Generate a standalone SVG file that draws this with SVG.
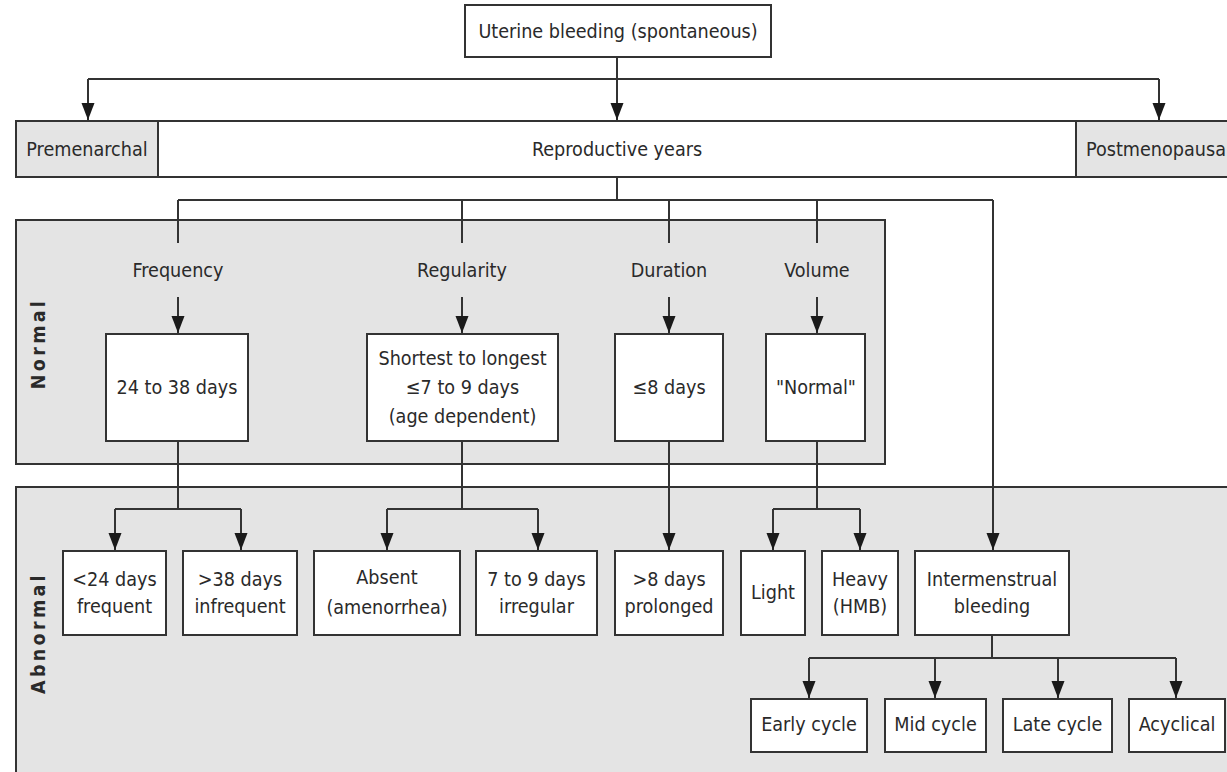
<svg xmlns="http://www.w3.org/2000/svg" width="1227" height="772" viewBox="0 0 1227 772">
<defs>
<marker id="ah" markerUnits="userSpaceOnUse" markerWidth="18" markerHeight="14" refX="17" refY="7" orient="auto" viewBox="0 0 18 14">
<path d="M0,0.5 L17,7 L0,13.5 Z" fill="#1a1a1a"/>
</marker>
<style>
.t{font-family:"DejaVu Sans Condensed","DejaVu Sans","Liberation Sans",sans-serif;font-stretch:condensed;font-size:19.6px;fill:#2a2a2a;text-anchor:middle}
.b{font-family:"DejaVu Sans Condensed","DejaVu Sans","Liberation Sans",sans-serif;font-stretch:condensed;font-size:19.5px;font-weight:bold;fill:#2a2a2a;text-anchor:middle;letter-spacing:3.3px}
.box{fill:#fff;stroke:#333;stroke-width:2}
.gray{fill:#e4e4e4;stroke:#333;stroke-width:2}
.c{fill:none;stroke:#333;stroke-width:2}
.a{fill:none;stroke:#333;stroke-width:2;marker-end:url(#ah)}
</style>
</defs>
<rect width="1227" height="772" fill="#fff"/>

<g id="panel-normal">
<rect class="gray" x="16" y="220" width="869" height="244"/>
<text class="b" transform="translate(45,343.5) rotate(-90)">Normal</text>
</g>
<g id="panel-abnormal">
<rect class="gray" x="16" y="487" width="1230" height="300"/>
<text class="b" transform="translate(45,633) rotate(-90)">Abnormal</text>
</g>

<g id="connectors">
<path class="c" d="M617,57 V79 M88,79 H1159"/>
<path class="a" d="M88,79 V120"/>
<path class="a" d="M617,79 V120"/>
<path class="a" d="M1159,79 V120"/>
<path class="c" d="M617,177 V200 M178,200 H993 M178,200 V243 M462,200 V243 M669,200 V243 M817,200 V243"/>
<path class="a" d="M178,297 V333"/>
<path class="a" d="M462,297 V333"/>
<path class="a" d="M669,297 V333"/>
<path class="a" d="M817,297 V333"/>
<path class="c" d="M178,441 V509 M115,509 H241 M462,441 V509 M387,509 H538 M817,441 V509 M773,509 H860"/>
<path class="a" d="M115,509 V550"/>
<path class="a" d="M241,509 V550"/>
<path class="a" d="M387,509 V550"/>
<path class="a" d="M538,509 V550"/>
<path class="a" d="M669,441 V550"/>
<path class="a" d="M773,509 V550"/>
<path class="a" d="M860,509 V550"/>
<path class="a" d="M993,200 V550"/>
<path class="c" d="M992,635 V658 M809,658 H1176"/>
<path class="a" d="M809,658 V698"/>
<path class="a" d="M935,658 V698"/>
<path class="a" d="M1058,658 V698"/>
<path class="a" d="M1176,658 V698"/>
</g>

<g id="uterine-bleeding">
<rect class="box" x="465" y="5" width="306" height="52"/>
<text class="t" x="618" y="38">Uterine bleeding (spontaneous)</text>
</g>
<g id="reproductive-years">
<rect class="box" x="16" y="121" width="1230" height="56"/>
<text class="t" x="617" y="155.5">Reproductive years</text>
</g>
<g id="premenarchal">
<rect class="gray" x="16" y="121" width="142" height="56"/>
<text class="t" x="87" y="155.5">Premenarchal</text>
</g>
<g id="postmenopausal">
<rect class="gray" x="1076" y="121" width="170" height="56"/>
<text class="t" x="1086" y="155.5" style="text-anchor:start">Postmenopausa</text>
</g>

<g id="frequency"><text class="t" x="178" y="277">Frequency</text></g>
<g id="regularity"><text class="t" x="462" y="277">Regularity</text></g>
<g id="duration"><text class="t" x="669" y="277">Duration</text></g>
<g id="volume"><text class="t" x="817" y="277">Volume</text></g>

<g id="n-frequency">
<rect class="box" x="106" y="334" width="142" height="107"/>
<text class="t" x="177" y="394">24 to 38 days</text>
</g>
<g id="n-regularity">
<rect class="box" x="367" y="334" width="191" height="107"/>
<text class="t" x="462.5" y="365">Shortest to longest</text>
<text class="t" x="462.5" y="394">≤7 to 9 days</text>
<text class="t" x="462.5" y="422.5">(age dependent)</text>
</g>
<g id="n-duration">
<rect class="box" x="615" y="334" width="108" height="107"/>
<text class="t" x="669" y="394">≤8 days</text>
</g>
<g id="n-volume">
<rect class="box" x="766" y="334" width="99" height="107"/>
<text class="t" x="816" y="394">"Normal"</text>
</g>

<g id="a-frequent">
<rect class="box" x="63" y="551" width="103" height="84"/>
<text class="t" x="114.5" y="585.5">&lt;24 days</text>
<text class="t" x="114.5" y="613">frequent</text>
</g>
<g id="a-infrequent">
<rect class="box" x="183" y="551" width="114" height="84"/>
<text class="t" x="240" y="585.5">&gt;38 days</text>
<text class="t" x="240" y="613">infrequent</text>
</g>
<g id="a-absent">
<rect class="box" x="314" y="551" width="146" height="84"/>
<text class="t" x="387" y="583.5">Absent</text>
<text class="t" x="387" y="614">(amenorrhea)</text>
</g>
<g id="a-irregular">
<rect class="box" x="476" y="551" width="121" height="84"/>
<text class="t" x="536.5" y="585.5">7 to 9 days</text>
<text class="t" x="536.5" y="613">irregular</text>
</g>
<g id="a-prolonged">
<rect class="box" x="615" y="551" width="108" height="84"/>
<text class="t" x="669" y="585.5">&gt;8 days</text>
<text class="t" x="669" y="613">prolonged</text>
</g>
<g id="a-light">
<rect class="box" x="741" y="551" width="64" height="84"/>
<text class="t" x="773" y="598.5">Light</text>
</g>
<g id="a-heavy">
<rect class="box" x="822" y="551" width="76" height="84"/>
<text class="t" x="860" y="585.5">Heavy</text>
<text class="t" x="860" y="613">(HMB)</text>
</g>
<g id="a-intermenstrual">
<rect class="box" x="915" y="551" width="154" height="84"/>
<text class="t" x="992" y="585.5">Intermenstrual</text>
<text class="t" x="992" y="613">bleeding</text>
</g>

<g id="early-cycle">
<rect class="box" x="751" y="699" width="116" height="53"/>
<text class="t" x="809" y="731">Early cycle</text>
</g>
<g id="mid-cycle">
<rect class="box" x="885" y="699" width="101" height="53"/>
<text class="t" x="935.5" y="731">Mid cycle</text>
</g>
<g id="late-cycle">
<rect class="box" x="1003" y="699" width="109" height="53"/>
<text class="t" x="1057.5" y="731">Late cycle</text>
</g>
<g id="acyclical">
<rect class="box" x="1129" y="699" width="96" height="53"/>
<text class="t" x="1177" y="731">Acyclical</text>
</g>
</svg>
